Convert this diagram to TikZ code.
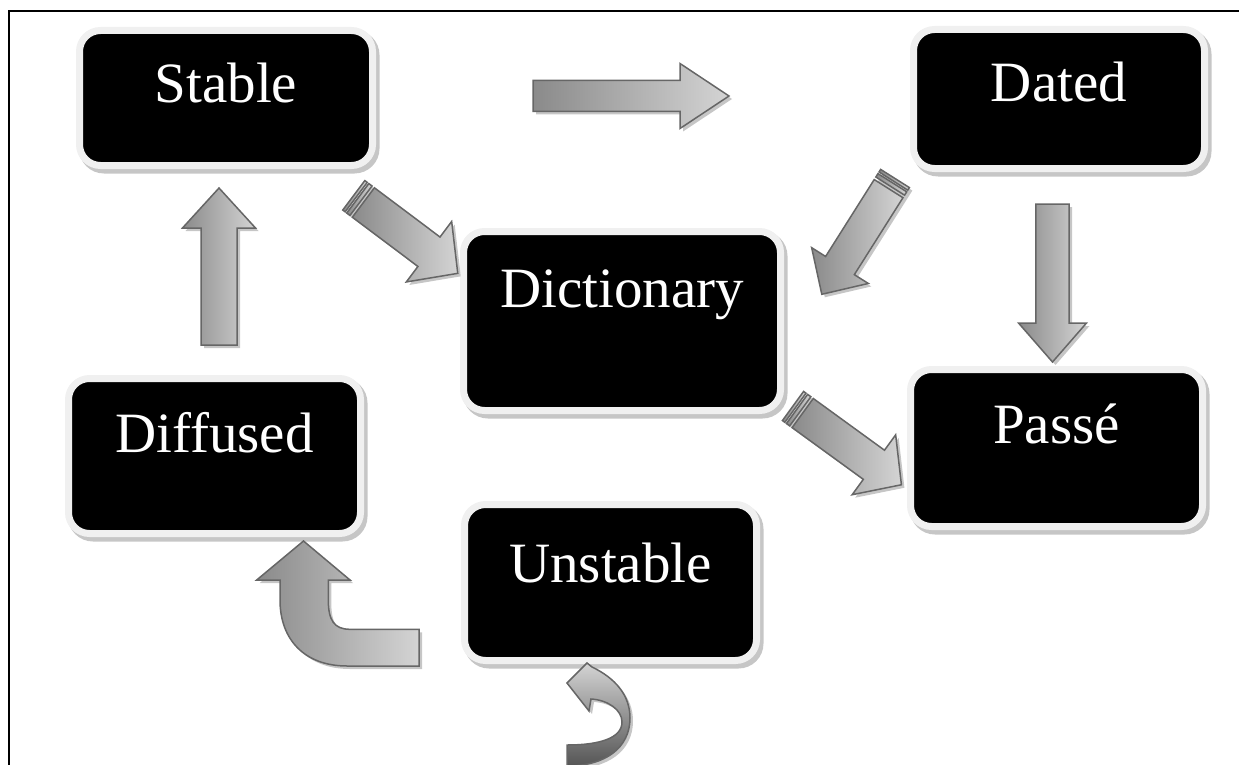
\documentclass[tikz,border=0pt]{standalone}
\usepackage{fontspec}
\setmainfont{Liberation Serif}
\usetikzlibrary{calc,backgrounds}
\definecolor{arrdark}{HTML}{8A8A8A}
\definecolor{arrlight}{HTML}{D4D4D4}
\definecolor{arredge}{HTML}{666666}
\definecolor{shadowc}{HTML}{C6C6C6}
\definecolor{haloc}{HTML}{F0F0F0}
\definecolor{ribbondark}{HTML}{555555}
\tikzset{
  box/.style={draw=haloc, line width=7pt, fill=black, rounded corners=21pt,
    inner sep=0pt, outer sep=0pt, text=white,
    font=\fontsize{57}{60}\selectfont, anchor=base},
  arrbody/.style={draw=arredge, line width=1.5pt, left color=arrdark,
    right color=arrlight, line join=miter},
  arrshadow/.style={fill=shadowc, draw=none},
  boxshadow/.style={fill=shadowc, draw=none, rounded corners=25pt},
}
% #1 name, #2 tail centre, #3 angle, #4 length, #5 shaft half width,
% #6 head half width, #7 head length, #8 shaft start (0 = no stripes)
\newcommand\blockarrow[8]{%
  \begin{scope}[shift={(3,3)}]
    \begin{scope}[shift={#2}, rotate=#3]
      \fill[arrshadow] (0,#5) -- (#4-#7,#5) -- (#4-#7,#6) -- (#4,0)
        -- (#4-#7,-#6) -- (#4-#7,-#5) -- (0,-#5) -- cycle;
    \end{scope}
  \end{scope}
  \begin{scope}[shift={#2}, rotate=#3]
    \coordinate (#1) at (#4/2,0);
    \path[arrbody] (#8,#5) -- (#4-#7,#5) -- (#4-#7,#6) -- (#4,0)
      -- (#4-#7,-#6) -- (#4-#7,-#5) -- (#8,-#5) -- cycle;
    \ifdim #8pt>0pt
      \path[arrbody] (0,-#5) rectangle (3,#5);
      \path[arrbody] (5,-#5) rectangle (9,#5);
    \fi
  \end{scope}}
\newcommand\boxshadow[1]{%
  \fill[boxshadow] ($(#1.north west)+(-0.5,-0.5)$) rectangle ($(#1.south east)+(7,8)$);}
\begin{document}
\begin{tikzpicture}[x=1pt,y=-1pt]
\useasboundingbox (0,0) rectangle (1239,765);
\draw[line width=2pt] (8.5,765) -- (8.5,11) -- (1239,11);

% boxes
\node[box, minimum width=293pt, text height=72.5pt, text depth=62.5pt] (stable) at (226,103) {Stable};
\node[box, minimum width=291pt, text height=72.5pt, text depth=66.5pt] (dated) at (1059,102) {Dated};
\node[box, minimum width=317pt, text height=75.5pt, text depth=103.5pt] (dict) at (622,307) {Dictionary};
\node[box, minimum width=292pt, text height=73.5pt, text depth=83.5pt] (passe) at (1056.5,443) {Passé};
\node[box, minimum width=292pt, text height=73.5pt, text depth=81.5pt] (diffused) at (214.5,452) {Diffused};
\node[box, minimum width=292pt, text height=77.5pt, text depth=78.5pt] (unstable) at (610.5,582) {Unstable};
\begin{scope}[on background layer]
  \boxshadow{stable}
  \boxshadow{dated}
  \boxshadow{dict}
  \boxshadow{passe}
  \boxshadow{diffused}
  \boxshadow{unstable}
\end{scope}

% straight block arrows
\blockarrow{a1}{(533,96)}{0}{196}{15.5}{32.5}{49}{0}
\blockarrow{a2}{(219,345)}{90}{157}{18}{36.5}{40}{0}
\blockarrow{a3}{(1052.5,204)}{-90}{158}{16.7}{34}{39}{0}
\blockarrow{a4}{(895,178.5)}{-122.3}{137}{17}{33.5}{34}{12}
\blockarrow{a5}{(353.8,195.3)}{-36.9}{130}{18.4}{37.8}{36}{12}
\blockarrow{a6}{(793,406)}{-36}{134}{18}{37}{34}{12}

% bent arrow from Unstable to Diffused
\fill[arrshadow, shift={(3,3)}] (303.5,541) -- (350,580) -- (328.3,580) -- (328.3,600)
  .. controls (328.3,620) and (334,629.3) .. (350,629.3) -- (419,629.3) -- (419,666)
  -- (347,666) .. controls (305,666) and (280,640) .. (280,600) -- (280,580)
  -- (256.7,580) -- cycle;
\path[arrbody] (303.5,541) -- (350,580) -- (328.3,580) -- (328.3,600)
  .. controls (328.3,620) and (334,629.3) .. (350,629.3) -- (419,629.3) -- (419,666)
  -- (347,666) .. controls (305,666) and (280,640) .. (280,600) -- (280,580)
  -- (256.7,580) -- cycle;
\coordinate (a7) at (304,600);

% curved arrow under Unstable
\fill[arrshadow, shift={(3,3)}] (567,683) -- (587,663) -- (592,667)
  .. controls (615,678) and (630,695) .. (630,718)
  .. controls (630,748) and (605,766) .. (567,766) -- (567,745)
  .. controls (600,745) and (622,738) .. (622,722)
  .. controls (622,710) and (608,700) .. (591,699) -- (589,711) -- cycle;
\path[draw=arredge, line width=1.5pt, top color=arrlight, bottom color=ribbondark]
  (567,683) -- (587,663) -- (592,667)
  .. controls (615,678) and (630,695) .. (630,718)
  .. controls (630,748) and (605,766) .. (567,766) -- (567,745)
  .. controls (600,745) and (622,738) .. (622,722)
  .. controls (622,710) and (608,700) .. (591,699) -- (589,711) -- cycle;
\coordinate (a8) at (610,720);
\end{tikzpicture}
\end{document}
